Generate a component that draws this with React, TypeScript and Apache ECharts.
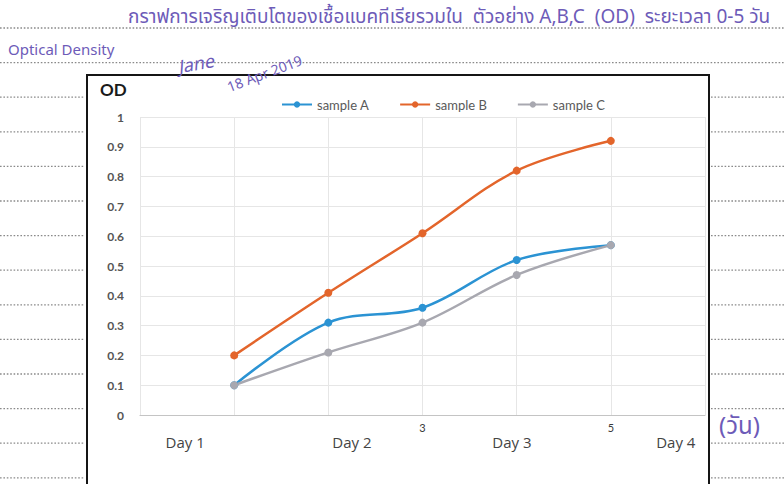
import React, { useEffect, useRef } from 'react';
import * as echarts from 'echarts';

const seriesNames = ['sample A', 'sample B', 'sample C'];
const sampleX = [1, 2, 3, 4, 5];
const sampleA = [0.1, 0.31, 0.36, 0.52, 0.57];
const sampleB = [0.2, 0.41, 0.61, 0.82, 0.92];
const sampleC = [0.1, 0.21, 0.31, 0.47, 0.57];
const seriesColors = ['#2b93d3', '#e3652b', '#a8a8b0'];
const xTickLabels: Record<number, string> = { 3: '3', 5: '5' };
const dayLabels = ['Day 1', 'Day 2', 'Day 3', 'Day 4'];
const dayLabelX = [0.48, 2.25, 3.95, 5.69];
const yAxisTitle = 'OD';
const titleText = 'กราฟการเจริญเติบโตของเชื้อแบคทีเรียรวมใน  ตัวอย่าง A,B,C  (OD)  ระยะเวลา 0-5 วัน';
const subText = 'Optical Density';
const authorText = 'Jane';
const dateText = '18 Apr 2019';
const unitText = '(วัน)';

const PURPLE = '#6d5bb8';
const HAND = '"Noto Sans Thai", "Noto Sans", "DejaVu Sans", sans-serif';

export default function App() {
  const ref = useRef<HTMLDivElement>(null);
  useEffect(() => {
    if (!ref.current) return;
    const chart = echarts.init(ref.current, undefined, { renderer: 'svg' });

    const box = { l: 87, t: 75, r: 709, b: 500 };
    const paper: any[] = [];
    const dotStyle = { stroke: '#8a8a8a', lineWidth: 1.3, lineDash: [1.6, 1.8] };
    for (let k = 0; k < 14; k++) {
      const y = 28 + 34.6 * k;
      if (y < box.t) {
        paper.push({ type: 'line', shape: { x1: 0, y1: y, x2: 784, y2: y }, style: dotStyle, silent: true });
      } else {
        paper.push({ type: 'line', shape: { x1: 0, y1: y, x2: box.l - 2, y2: y }, style: dotStyle, silent: true });
        paper.push({ type: 'line', shape: { x1: box.r + 2, y1: y, x2: 784, y2: y }, style: dotStyle, silent: true });
      }
    }

    const baseGraphics: any[] = [
      ...paper,
      { type: 'rect', shape: { x: box.l, y: box.t, width: box.r - box.l, height: box.b - box.t }, style: { fill: 'transparent', stroke: '#151515', lineWidth: 2 }, silent: true },
      { type: 'text', x: 128, y: 17, style: { text: titleText, fill: PURPLE, font: `19px ${HAND}`, verticalAlign: 'middle' } },
      { type: 'text', x: 8, y: 50, style: { text: subText, fill: PURPLE, font: `15px ${HAND}`, verticalAlign: 'middle' } },
      { type: 'text', x: 178, y: 68, rotation: 0.18, style: { text: authorText, fill: PURPLE, font: `italic 18px ${HAND}`, verticalAlign: 'middle' } },
      { type: 'text', x: 228, y: 88, rotation: 0.36, style: { text: dateText, fill: PURPLE, font: `14px ${HAND}`, verticalAlign: 'middle' } },
      { type: 'text', x: 719, y: 427, style: { text: unitText, fill: PURPLE, font: `24px ${HAND}`, verticalAlign: 'middle' } },
      { type: 'text', x: 100, y: 89, style: { text: yAxisTitle, fill: '#1a1a1a', font: `bold 17px Lato, "Noto Sans", sans-serif`, verticalAlign: 'middle' } },
    ];

    const mk = (name: string, vals: number[], color: string) => ({
      name,
      type: 'line',
      data: sampleX.map((x, i) => [x, vals[i]]),
      smooth: 0.35,
      symbol: 'circle',
      symbolSize: 8,
      lineStyle: { width: 2.5, color },
      itemStyle: { color },
      z: 3,
    });

    chart.setOption({
      animation: false,
      backgroundColor: '#ffffff',
      legend: {
        data: seriesNames,
        left: 276,
        top: 93,
        itemWidth: 30,
        itemHeight: 8,
        itemGap: 30,
        textStyle: { fontSize: 13, color: '#595959', fontFamily: 'Lato, "Noto Sans", sans-serif' },
      },
      grid: { left: 140, right: 79, top: 117, bottom: 69, containLabel: false },
      xAxis: {
        type: 'value',
        min: 0,
        max: 6,
        interval: 1,
        axisLine: { show: true, lineStyle: { color: '#c4c4c4', width: 1.2 } },
        axisTick: { show: false },
        splitLine: { show: true, lineStyle: { color: '#e6e6e6', width: 1 } },
        axisLabel: {
          formatter: (v: number) => xTickLabels[v] ?? '',
          fontSize: 11,
          color: '#3a3a3a',
          margin: 7,
          fontFamily: 'Lato, "Noto Sans", sans-serif',
        },
      },
      yAxis: {
        type: 'value',
        min: 0,
        max: 1,
        interval: 0.1,
        axisLine: { show: false },
        axisTick: { show: false },
        splitLine: { show: true, lineStyle: { color: '#e6e6e6', width: 1 } },
        axisLabel: { fontSize: 12, color: '#555555', margin: 16, fontWeight: 'bold', fontFamily: 'Lato, "Noto Sans", sans-serif' },
      },
      series: [
        mk(seriesNames[0], sampleA, seriesColors[0]),
        mk(seriesNames[1], sampleB, seriesColors[1]),
        mk(seriesNames[2], sampleC, seriesColors[2]),
      ],
      graphic: baseGraphics,
    });

    const dayGraphics = dayLabels.map((t, i) => {
      const p = chart.convertToPixel({ xAxisIndex: 0, yAxisIndex: 0 }, [dayLabelX[i], 0]) as number[];
      return {
        type: 'text',
        x: p[0],
        y: p[1] + 27,
        style: { text: t, fill: '#444444', font: `15px "Open Sans", "Noto Sans", sans-serif`, align: 'center', verticalAlign: 'middle' },
      };
    });
    chart.setOption({ graphic: [...baseGraphics, ...dayGraphics] });

    return () => chart.dispose();
  }, []);
  return <div ref={ref} style={{ position: 'fixed', left: 0, top: 0, width: 784, height: 484 }} />;
}
